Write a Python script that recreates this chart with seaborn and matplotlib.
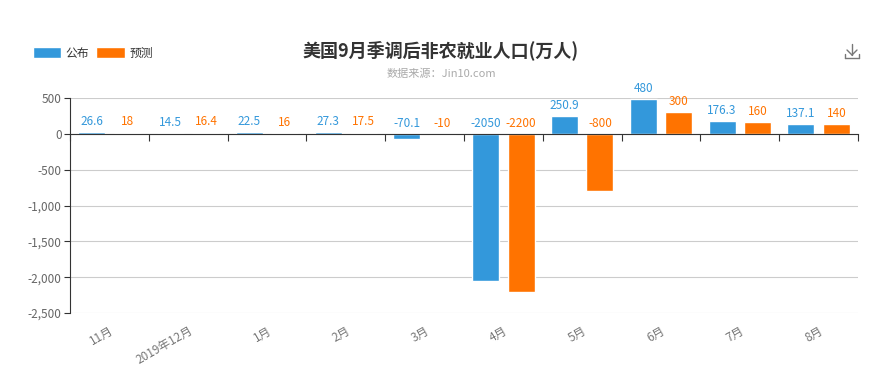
import numpy as np
import pandas as pd
import matplotlib
matplotlib.use("Agg")
import matplotlib.pyplot as plt
import matplotlib.ticker as mticker
from matplotlib.lines import Line2D
import seaborn as sns

categories = ["11月", "2019年12月", "1月", "2月", "3月", "4月", "5月", "6月", "7月", "8月"]
published = [26.6, 14.5, 22.5, 27.3, -70.1, -2050, 250.9, 480, 176.3, 137.1]
forecast = [18, 16.4, 16, 17.5, -10, -2200, -800, 300, 160, 140]
published_labels = ["26.6", "14.5", "22.5", "27.3", "-70.1", "-2050", "250.9", "480", "176.3", "137.1"]
forecast_labels = ["18", "16.4", "16", "17.5", "-10", "-2200", "-800", "300", "160", "140"]
series_names = ["公布", "预测"]
colors = ["#3398DB", "#FF7300"]
yticks = [500, 0, -500, -1000, -1500, -2000, -2500]

sns.set_theme(style="white")
plt.rcParams["font.family"] = ["Noto Sans CJK SC", "DejaVu Sans"]

df = pd.DataFrame({
    "month": categories * 2,
    "value": published + forecast,
    "series": [series_names[0]] * len(categories) + [series_names[1]] * len(categories),
})

fig = plt.figure(figsize=(8.84, 3.89), dpi=100)
ax = fig.add_axes([70 / 884, 1 - 313 / 389, (858 - 70) / 884, (313 - 98) / 389])

sns.barplot(data=df, x="month", y="value", hue="series", order=categories,
            hue_order=series_names, palette=colors, width=0.9, gap=0.24,
            saturation=1, ax=ax, legend=True, errorbar=None)

ax.set_ylim(-2500, 500)
ax.set_xlim(-0.5, len(categories) - 0.5)
ax.set_yticks(yticks)
ax.yaxis.set_major_formatter(mticker.FuncFormatter(lambda v, p: f"{int(v):,}"))
ax.grid(axis="y", color="#cccccc", linewidth=0.8)
ax.set_axisbelow(True)
ax.set_xlabel("")
ax.set_ylabel("")

for s in ["right", "bottom"]:
    ax.spines[s].set_visible(False)
ax.spines["left"].set_color("#333333")
ax.spines["left"].set_linewidth(0.8)
ax.spines["top"].set_position(("data", 0))
ax.spines["top"].set_color("#333333")
ax.spines["top"].set_linewidth(0.8)

ax.set_xticks(np.arange(len(categories)))
ax.set_xticklabels(categories, rotation=30, ha="right", rotation_mode="anchor")
ax.set_xticks(np.arange(-0.5, len(categories)), minor=True)
ax.tick_params(axis="x", which="major", bottom=True, top=False, length=0,
               labelsize=8.5, labelcolor="#777777", pad=8)
ax.tick_params(axis="x", which="minor", bottom=False, top=True, direction="in",
               length=5, color="#333333", width=0.8)
ax.tick_params(axis="y", left=True, length=4, color="#333333", width=0.8,
               labelsize=8.5, labelcolor="#666666", pad=2)

for cont, labels, col in zip(ax.containers, [published_labels, forecast_labels], colors):
    for patch, lab in zip(cont.patches, labels):
        top = max(patch.get_y(), patch.get_y() + patch.get_height())
        ax.annotate(lab, (patch.get_x() + patch.get_width() / 2, top),
                    xytext=(0, 3), textcoords="offset points",
                    ha="center", va="bottom", color=col, fontsize=8.5)

leg = ax.get_legend()
handles = leg.legend_handles
leg.remove()
fig.legend(handles, series_names, loc="upper left", bbox_to_anchor=(22 / 884, 1 - 36 / 389),
           ncol=2, frameon=False, fontsize=8.5, handlelength=2.4, handleheight=1.0,
           handletextpad=0.4, columnspacing=0.6, labelcolor="#333333")

fig.text(441 / 884, 1 - 50 / 389, "美国9月季调后非农就业人口(万人)", ha="center", va="center",
         fontsize=13, fontweight="bold", color="#333333")
fig.text(441 / 884, 1 - 74 / 389, "数据来源：Jin10.com", ha="center", va="center",
         fontsize=8, color="#aaaaaa")

# download icon
ic = "#777777"
cx, cy = 852, 52
def P(x, y):
    return (x / 884, 1 - y / 389)
for (x0, y0), (x1, y1) in [((cx, cy - 8), (cx, cy + 3)), ((cx - 5, cy - 2), (cx, cy + 3)),
                           ((cx + 5, cy - 2), (cx, cy + 3)), ((cx - 7, cy + 2), (cx - 7, cy + 6)),
                           ((cx - 7, cy + 6), (cx + 7, cy + 6)), ((cx + 7, cy + 6), (cx + 7, cy + 2))]:
    a, b = P(x0, y0), P(x1, y1)
    fig.add_artist(Line2D([a[0], b[0]], [a[1], b[1]], color=ic, linewidth=1.0))

fig.savefig("out.png", dpi=100)
